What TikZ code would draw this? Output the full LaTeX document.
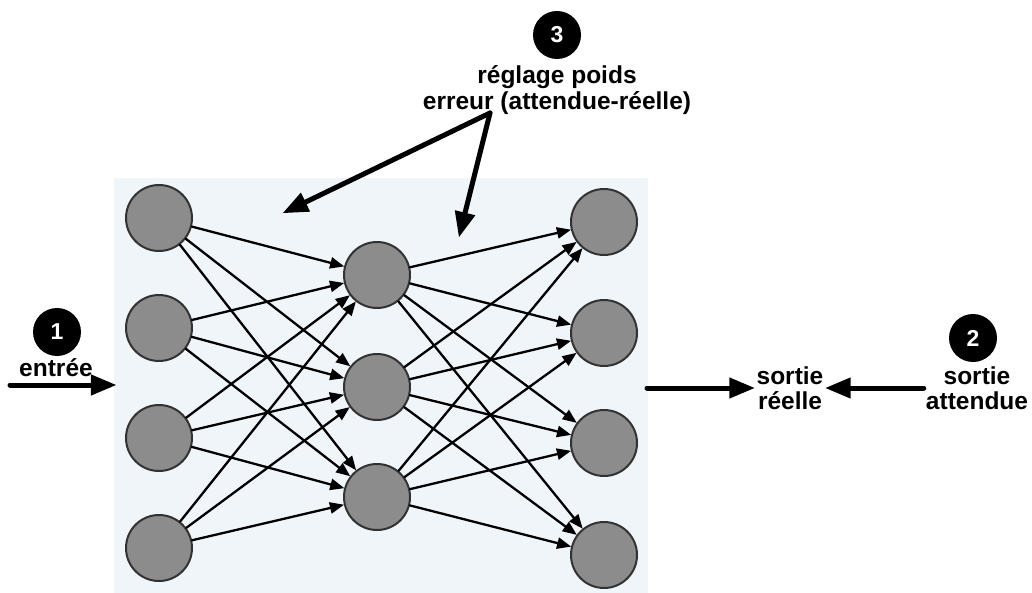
\documentclass[tikz,border=0pt]{standalone}
\usepackage{fontspec}
\setmainfont{Liberation Sans}
\usetikzlibrary{arrows}
\definecolor{fond}{RGB}{240,245,250}
\definecolor{gris}{RGB}{140,140,140}
\definecolor{bord}{RGB}{50,50,50}

\begin{document}
\begin{tikzpicture}[line cap=round,line join=round,>=triangle 45,x=1pt,y=-1pt,
    neurone/.style={circle,draw=bord,fill=gris,line width=2pt,minimum size=66pt,inner sep=0pt},
    numero/.style={circle,fill=black,text=white,minimum size=48pt,inner sep=0pt,font=\fontsize{23}{25}\selectfont\bfseries},
    legende/.style={align=center,inner sep=2pt,font=\fontsize{24.5}{25.5}\selectfont\bfseries},
    lien/.style={->,line width=2.3pt},
    fleche/.style={->,line width=5pt}]
    \useasboundingbox (0,0) rectangle (1032,593);
    \fill[color=fond] (114,178) rectangle (648,593);
    % couches du reseau
    \foreach \i/\y in {1/218,2/328,3/438,4/548}
    \node[neurone] (e\i) at (159,\y) {};
    \foreach \j/\y in {1/275,2/387,3/497}
    \node[neurone] (c\j) at (377,\y) {};
    \foreach \k/\y in {1/222,2/333,3/443,4/555}
    \node[neurone] (s\k) at (604,\y) {};
    \foreach \i in {1,...,4}
    \foreach \j in {1,2,3}
    \draw[lien] (e\i) -- (c\j);
    \foreach \j in {1,2,3}
    \foreach \k in {1,...,4}
    \draw[lien] (c\j) -- (s\k);
    % entree
    \node[numero] (n1) at (57,332) {1};
    \node[legende] (entree) at (56,368) {entrée};
    \coordinate (debut) at (10,385);
    \coordinate (reseau) at (116,385);
    \draw[fleche] (debut) -- (reseau);
    % sorties
    \coordinate (sortie) at (647,388);
    \node[legende] (reelle) at (790,388) {sortie\\réelle};
    \node[numero] (n2) at (973,338) {2};
    \node[legende] (attendue) at (977,388) {sortie\\attendue};
    \draw[fleche] (sortie) -- (reelle.west);
    \draw[fleche] (attendue.west) -- (reelle.east);
    % reglage des poids
    \node[numero] (n3) at (557,35) {3};
    \node[legende] (reglage) at (557,90) {réglage poids\\erreur (attendue-réelle)};
    \coordinate (depart) at (490,113);
    \coordinate (poids1) at (283,213);
    \coordinate (poids2) at (459,237);
    \draw[fleche] (depart) -- (poids1);
    \draw[fleche] (depart) -- (poids2);
\end{tikzpicture}
\end{document}
